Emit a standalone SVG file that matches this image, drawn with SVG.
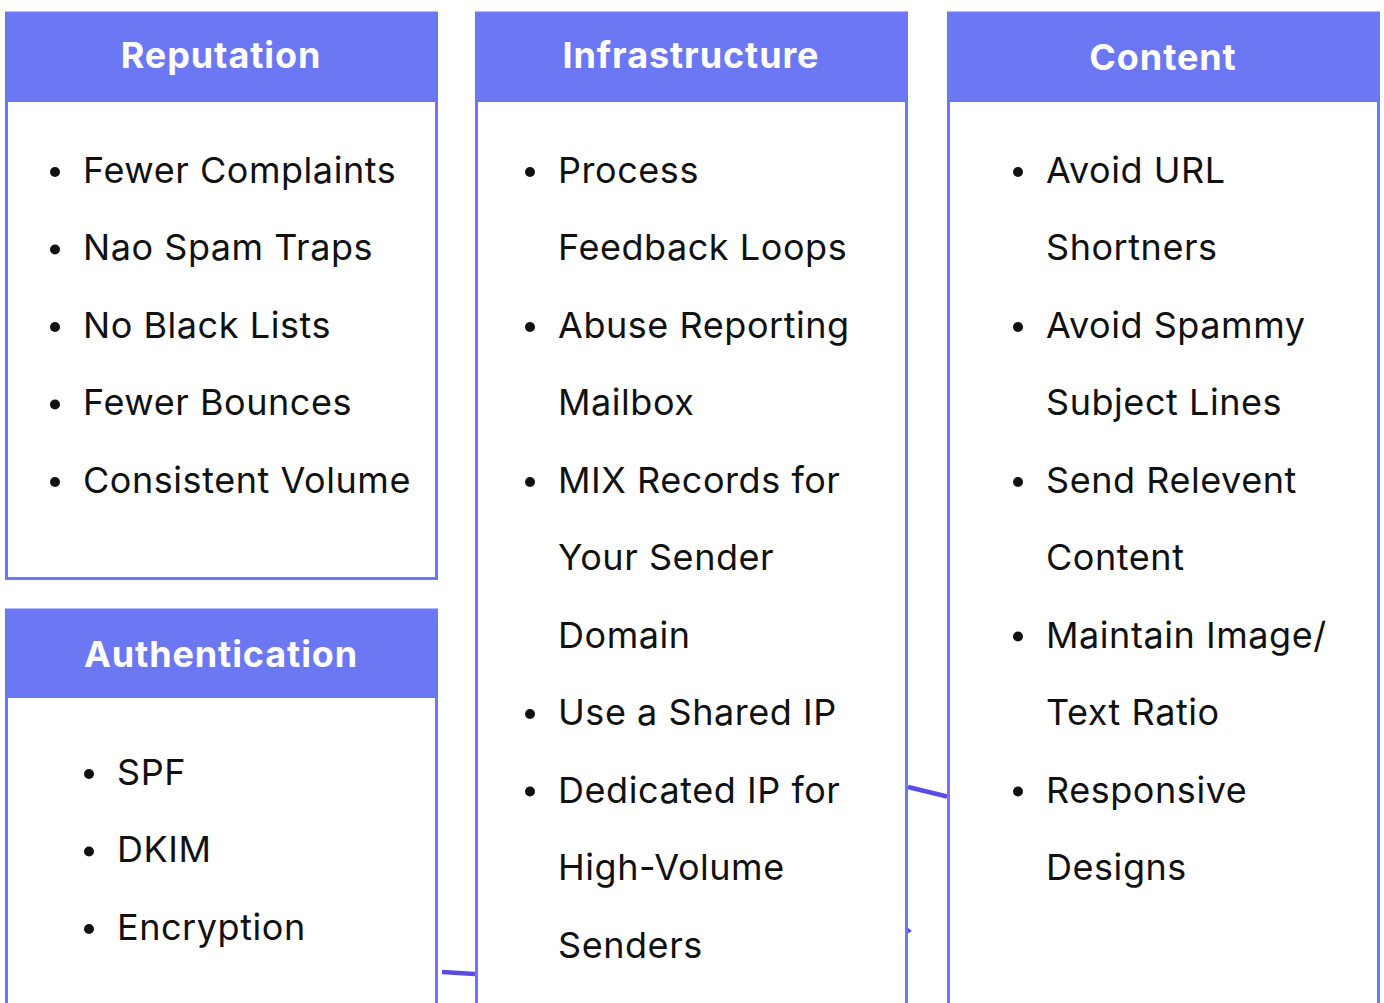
<svg xmlns="http://www.w3.org/2000/svg" width="1384" height="1003" viewBox="0 0 1384 1003">
<style>
.body{fill:#ffffff;stroke:#6c77f4;stroke-width:3}
.head{fill:#6c77f4}
.ht{font-family:Inter,"Liberation Sans",sans-serif;font-weight:700;font-size:36px;letter-spacing:0.9px;fill:#ffffff;text-anchor:middle}
.t{font-family:Inter,"Liberation Sans",sans-serif;font-size:36px;letter-spacing:0.55px;fill:#111111}
.dot{fill:#111111}
.conn{stroke:#5b4de3;stroke-width:4.5;fill:none}
</style>
<rect width="1384" height="1003" fill="#ffffff"/>
<g id="connectors">
<line class="conn" x1="908" y1="787" x2="947" y2="796.5"/>
<line class="conn" x1="442" y1="972" x2="475" y2="974" stroke-width="5"/>
<polygon points="907,927 912,931 907,934" fill="#5b4de3"/>
</g>
<g id="reputation">
<rect class="body" x="6.5" y="13" width="430" height="565.5"/>
<rect class="head" x="5" y="12" width="433" height="90"/>
<text class="ht" x="221" y="68">Reputation</text>
<g class="dot"><circle cx="55" cy="172" r="5"/><circle cx="55" cy="249.5" r="5"/><circle cx="55" cy="327" r="5"/><circle cx="55" cy="404.5" r="5"/><circle cx="55" cy="482" r="5"/></g>
<text class="t" x="83" y="182.5">Fewer Complaints</text>
<text class="t" x="83" y="260">Nao Spam Traps</text>
<text class="t" x="83" y="337.5">No Black Lists</text>
<text class="t" x="83" y="415">Fewer Bounces</text>
<text class="t" x="83" y="492.5">Consistent Volume</text>
</g>
<g id="authentication">
<rect class="body" x="6.5" y="610" width="430" height="400"/>
<rect class="head" x="5" y="609" width="433" height="89"/>
<text class="ht" x="221" y="667">Authentication</text>
<g class="dot"><circle cx="89" cy="774" r="5"/><circle cx="89" cy="851.5" r="5"/><circle cx="89" cy="929" r="5"/></g>
<text class="t" x="117" y="784.5">SPF</text>
<text class="t" x="117" y="862">DKIM</text>
<text class="t" x="117" y="939.5">Encryption</text>
</g>
<g id="infrastructure">
<rect class="body" x="476.5" y="13" width="430" height="1000"/>
<rect class="head" x="475" y="12" width="433" height="90"/>
<text class="ht" x="691" y="68">Infrastructure</text>
<g class="dot"><circle cx="530" cy="172" r="5"/><circle cx="530" cy="327" r="5"/><circle cx="530" cy="482" r="5"/><circle cx="530" cy="714" r="5"/><circle cx="530" cy="791.5" r="5"/></g>
<text class="t" x="558" y="182.5">Process</text>
<text class="t" x="558" y="260">Feedback Loops</text>
<text class="t" x="558" y="337.5">Abuse Reporting</text>
<text class="t" x="558" y="415">Mailbox</text>
<text class="t" x="558" y="492.5">MIX Records for</text>
<text class="t" x="558" y="570">Your Sender</text>
<text class="t" x="558" y="647.5">Domain</text>
<text class="t" x="558" y="725">Use a Shared IP</text>
<text class="t" x="558" y="802.5">Dedicated IP for</text>
<text class="t" x="558" y="880">High-Volume</text>
<text class="t" x="558" y="957.5">Senders</text>
</g>
<g id="content">
<rect class="body" x="948.5" y="13" width="430" height="1000"/>
<rect class="head" x="947" y="12" width="433" height="90"/>
<text class="ht" x="1163" y="70">Content</text>
<g class="dot"><circle cx="1018" cy="172" r="5"/><circle cx="1018" cy="327" r="5"/><circle cx="1018" cy="482" r="5"/><circle cx="1018" cy="636.5" r="5"/><circle cx="1018" cy="791.5" r="5"/></g>
<text class="t" x="1046" y="182.5">Avoid URL</text>
<text class="t" x="1046" y="260">Shortners</text>
<text class="t" x="1046" y="337.5">Avoid Spammy</text>
<text class="t" x="1046" y="415">Subject Lines</text>
<text class="t" x="1046" y="492.5">Send Relevent</text>
<text class="t" x="1046" y="570">Content</text>
<text class="t" x="1046" y="647.5">Maintain Image/</text>
<text class="t" x="1046" y="725">Text Ratio</text>
<text class="t" x="1046" y="802.5">Responsive</text>
<text class="t" x="1046" y="880">Designs</text>
</g>
</svg>
